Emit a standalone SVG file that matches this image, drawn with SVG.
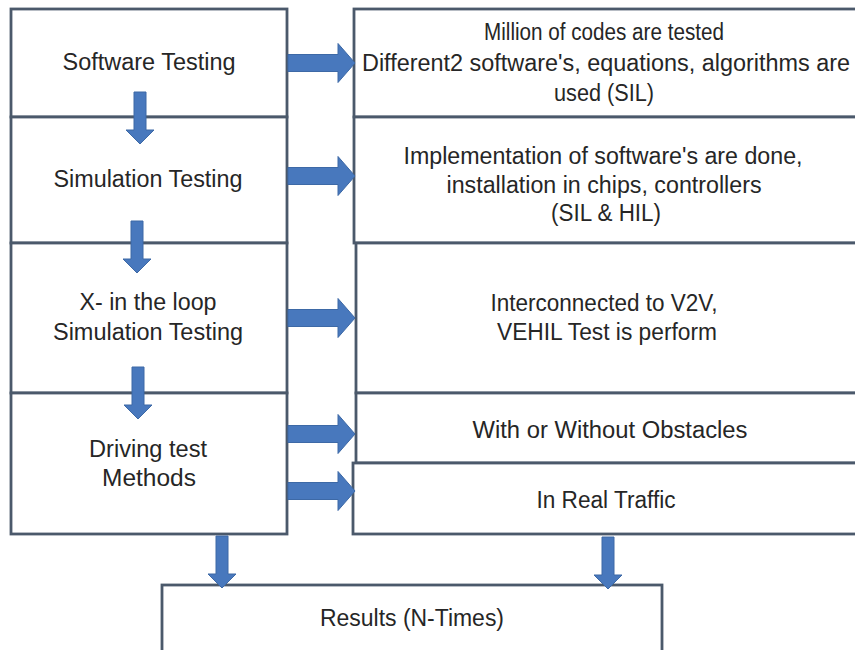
<svg xmlns="http://www.w3.org/2000/svg" xmlns:xlink="http://www.w3.org/1999/xlink" width="855" height="650" viewBox="0 0 855 650">
<style>
.box{fill:#ffffff;stroke:#4b596b;stroke-width:2.8}
.t{font-family:"Liberation Sans",Arial,sans-serif;font-size:23px;fill:#262626;text-anchor:middle}
.arr{fill:#4878bd;stroke:#3d69a6;stroke-width:1}
</style>
<defs>
<path id="ha" d="M0,-8.5 H50 V-19.5 L67,0 L50,19.5 V8.5 H0 Z"/>
<path id="va" d="M-6,0 V38 H-14 L0,52 L14,38 H6 V0 Z"/>
</defs>
<rect width="855" height="650" fill="#ffffff"/>
<g id="software-testing"><rect class="box" x="11" y="9" width="276" height="108"/><text class="t" x="149" y="70" textLength="173" lengthAdjust="spacingAndGlyphs">Software Testing</text></g>
<g id="simulation-testing"><rect class="box" x="11" y="117" width="276" height="126"/><text class="t" x="148" y="187" textLength="189" lengthAdjust="spacingAndGlyphs">Simulation Testing</text></g>
<g id="xil-testing"><rect class="box" x="11" y="243" width="276" height="150"/><text class="t" x="148" y="310" textLength="137" lengthAdjust="spacingAndGlyphs">X- in the loop</text><text class="t" x="148" y="340" textLength="190" lengthAdjust="spacingAndGlyphs">Simulation Testing</text></g>
<g id="driving-test"><rect class="box" x="11" y="393" width="276" height="141"/><text class="t" x="148" y="457" textLength="118" lengthAdjust="spacingAndGlyphs">Driving test</text><text class="t" x="149" y="486" textLength="94" lengthAdjust="spacingAndGlyphs">Methods</text></g>
<g id="sil-desc"><rect class="box" x="354" y="9" width="520" height="108"/><text class="t" x="604" y="40" textLength="240" lengthAdjust="spacingAndGlyphs">Million of codes are tested</text><text class="t" x="606" y="71" textLength="488" lengthAdjust="spacingAndGlyphs">Different2 software's, equations, algorithms are</text><text class="t" x="604" y="101" textLength="100" lengthAdjust="spacingAndGlyphs">used (SIL)</text></g>
<g id="hil-desc"><rect class="box" x="354" y="117" width="520" height="126"/><text class="t" x="603" y="164" textLength="399" lengthAdjust="spacingAndGlyphs">Implementation of software's are done,</text><text class="t" x="604" y="193" textLength="315" lengthAdjust="spacingAndGlyphs">installation in chips, controllers</text><text class="t" x="606" y="221" textLength="110" lengthAdjust="spacingAndGlyphs">(SIL &amp; HIL)</text></g>
<g id="v2v-desc"><rect class="box" x="356" y="243" width="520" height="150"/><text class="t" x="604" y="311" textLength="227" lengthAdjust="spacingAndGlyphs">Interconnected to V2V,</text><text class="t" x="607" y="340" textLength="220" lengthAdjust="spacingAndGlyphs">VEHIL Test is perform</text></g>
<g id="obstacles"><rect class="box" x="356" y="393" width="520" height="70"/><text class="t" x="610" y="438" textLength="275" lengthAdjust="spacingAndGlyphs">With or Without Obstacles</text></g>
<g id="real-traffic"><rect class="box" x="353" y="463" width="520" height="71"/><text class="t" x="606" y="508" textLength="139" lengthAdjust="spacingAndGlyphs">In Real Traffic</text></g>
<g id="results"><rect class="box" x="162" y="585" width="500" height="80"/><text class="t" x="412" y="626" textLength="184" lengthAdjust="spacingAndGlyphs">Results (N-Times)</text></g>
<g id="connectors">
<use xlink:href="#ha" class="arr" transform="translate(288,63)"/>
<use xlink:href="#ha" class="arr" transform="translate(288,176)"/>
<use xlink:href="#ha" class="arr" transform="translate(288,318)"/>
<use xlink:href="#ha" class="arr" transform="translate(288,434)"/>
<use xlink:href="#ha" class="arr" transform="translate(288,491)"/>
<use xlink:href="#va" class="arr" transform="translate(140,92)"/>
<use xlink:href="#va" class="arr" transform="translate(137,221)"/>
<use xlink:href="#va" class="arr" transform="translate(138,367)"/>
<use xlink:href="#va" class="arr" transform="translate(222,536)"/>
<use xlink:href="#va" class="arr" transform="translate(608,537)"/>
</g>
</svg>
